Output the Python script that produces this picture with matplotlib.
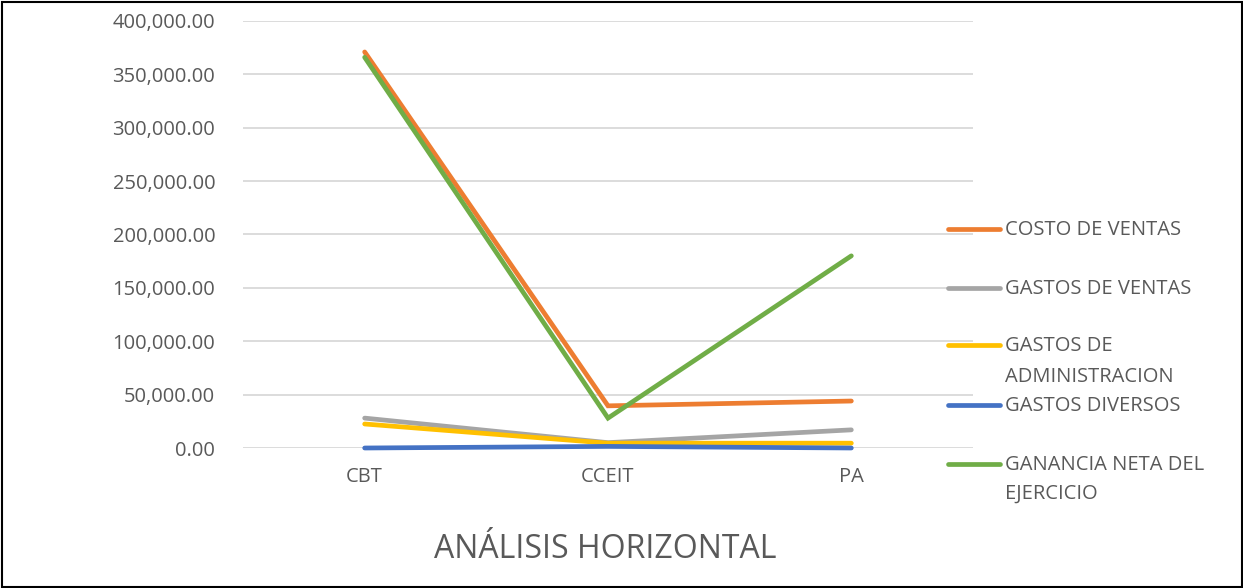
import matplotlib
matplotlib.use("Agg")
import matplotlib.pyplot as plt
from matplotlib.lines import Line2D
from matplotlib.ticker import FuncFormatter

categories = ["CBT", "CCEIT", "PA"]
series_names = ["COSTO DE VENTAS", "GASTOS DE VENTAS", "GASTOS DE\nADMINISTRACION",
                "GASTOS DIVERSOS", "GANANCIA NETA DEL\nEJERCICIO"]
costo_ventas = [371000, 39500, 44000]
gastos_ventas = [28000, 5000, 17000]
gastos_admin = [22500, 4500, 4500]
gastos_diversos = [0, 1500, 0]
ganancia_neta = [366000, 28000, 180000]
colors = ["#ED7D31", "#A5A5A5", "#FFC000", "#4472C4", "#70AD47"]
yticks = [0, 50000, 100000, 150000, 200000, 250000, 300000, 350000, 400000]

plt.rcParams['font.family'] = ['Open Sans', 'DejaVu Sans']

W, H = 1243, 588
fig = plt.figure(figsize=(W / 100, H / 100), dpi=100)
ax = fig.add_axes([243 / W, 1 - 448 / H, (973 - 243) / W, (448 - 21) / H])

x = list(range(len(categories)))
data = [costo_ventas, gastos_ventas, gastos_admin, gastos_diversos, ganancia_neta]
draw_order = [1, 2, 3, 0, 4]
for z, i in enumerate(draw_order):
    ax.plot(x, data[i], color=colors[i], lw=3.4, solid_capstyle='round',
            solid_joinstyle='miter', zorder=3 + z, clip_on=False)

ax.set_xlim(-0.5, len(categories) - 0.5)
ax.set_ylim(0, 400000)
ax.set_yticks(yticks)
ax.yaxis.set_major_formatter(FuncFormatter(lambda v, p: f"{v:,.2f}"))
ax.set_xticks(x)
ax.set_xticklabels(categories)
ax.tick_params(axis='both', length=0, labelsize=14.5, colors='#595959')
ax.tick_params(axis='y', pad=20)
ax.tick_params(axis='x', pad=14)
ax.grid(axis='y', color='#D9D9D9', lw=1.3)
for s in ax.spines.values():
    s.set_visible(False)
ax.set_axisbelow(True)

# legend (manual placement)
leg_y = [229, 288, 345, 405, 464]
line_gap = [0, 0, 31, 0, 29]
for i, name in enumerate(series_names):
    yf = 1 - leg_y[i] / H
    fig.add_artist(Line2D([948 / W, 1000 / W], [yf, yf], color=colors[i], lw=3.4,
                          solid_capstyle='round', transform=fig.transFigure))
    for k, part in enumerate(name.split('\n')):
        fig.text(1005 / W, 1 - (leg_y[i] + 1 + k * line_gap[i]) / H, part, fontsize=14.5,
                 color='#595959', va='center', ha='left')

fig.text(605 / W, 1 - 549 / H, "ANÁLISIS HORIZONTAL", fontsize=23, color='#595959',
         ha='center', va='center')

# outer border
fig.add_artist(plt.Rectangle((1.5 / W, 1.5 / H), 1 - 3 / W, 1 - 3 / H, fill=False,
                             edgecolor='black', lw=1.5, transform=fig.transFigure))

fig.savefig("out.png", dpi=100)
